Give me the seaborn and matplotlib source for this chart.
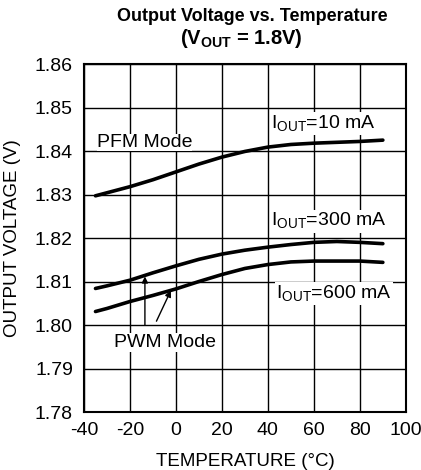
import numpy as np
import pandas as pd
import matplotlib.pyplot as plt
import seaborn as sns

# Values
temperature = [-35, -30, -20, -10, 0, 10, 20, 30, 40, 50, 60, 70, 80, 90]
vout_10ma = [1.8297, 1.8304, 1.8318, 1.8334, 1.8352, 1.8370, 1.8386, 1.8399,
             1.8409, 1.8415, 1.8418, 1.8420, 1.8422, 1.8425]
vout_300ma = [1.8084, 1.8090, 1.8103, 1.8120, 1.8136, 1.8151, 1.8163, 1.8172,
              1.8179, 1.8185, 1.8190, 1.8192, 1.8190, 1.8187]
vout_600ma = [1.8031, 1.8038, 1.8054, 1.8068, 1.8083, 1.8100, 1.8116, 1.8130,
              1.8139, 1.8145, 1.8147, 1.8147, 1.8147, 1.8144]
series_names = ["10 mA", "300 mA", "600 mA"]

x_ticks = [-40, -20, 0, 20, 40, 60, 80, 100]
y_ticks = [1.78, 1.79, 1.80, 1.81, 1.82, 1.83, 1.84, 1.85, 1.86]

df = pd.DataFrame({
    "temp": temperature * 3,
    "vout": vout_10ma + vout_300ma + vout_600ma,
    "iout": np.repeat(series_names, len(temperature)),
})

sns.set_style("white")
plt.rcParams["font.family"] = ["Liberation Sans", "DejaVu Sans"]
plt.rcParams["mathtext.fontset"] = "custom"
plt.rcParams["mathtext.rm"] = "Liberation Sans"
plt.rcParams["mathtext.bf"] = "Liberation Sans:bold"
plt.rcParams["axes.unicode_minus"] = False
plt.rcParams["text.color"] = "black"
plt.rcParams["axes.labelcolor"] = "black"

fig = plt.figure(figsize=(4.21, 4.70), dpi=100)
ax = fig.add_axes([0.1995, 0.1234, 0.7645, 0.7404])

ax.grid(True, color="black", linewidth=1.0)
ax.set_axisbelow(True)

sns.lineplot(
    data=df, x="temp", y="vout", hue="iout",
    palette=["black"] * 3, linewidth=2.6, legend=False, ax=ax,
)

ax.set_xlim(-40, 100)
ax.set_ylim(1.78, 1.86)
ax.set_xticks(x_ticks)
ax.set_yticks(y_ticks)
ax.set_yticklabels([f"{v:.2f}" for v in y_ticks])
ax.tick_params(axis="y", length=0, labelsize=14, pad=8, colors="black")
ax.tick_params(axis="x", length=0, labelsize=14, pad=7, colors="black")
for s in ax.spines.values():
    s.set_color("black")
    s.set_linewidth(1.5)

ax.set_xlabel("TEMPERATURE (°C)", fontsize=13.5, labelpad=10)
ax.set_ylabel("OUTPUT VOLTAGE (V)", fontsize=13.5, labelpad=10)

fig.text(0.599, 0.965, "Output Voltage vs. Temperature", ha="center", va="center",
         fontsize=13, fontweight="bold")
fig.text(0.573, 0.918, r"(V$_{\mathbf{OUT}}$ = 1.8V)", ha="center", va="center",
         fontsize=14.5, fontweight="bold")

box = dict(facecolor="white", edgecolor="none", pad=1)
ax.text(41.5, 1.8439, r"I$_{\mathregular{OUT}}$=10 mA", fontsize=14, va="bottom", bbox=box)
ax.text(-34.5, 1.8401, "PFM Mode", fontsize=14, va="bottom",
        bbox=dict(facecolor="white", edgecolor="none", pad=0))
ax.text(41.5, 1.8215, r"I$_{\mathregular{OUT}}$=300 mA", fontsize=14, va="bottom", bbox=box)
ax.text(43.5, 1.8049, r"I$_{\mathregular{OUT}}$=600 mA", fontsize=14, va="bottom", bbox=box)
ax.text(-27, 1.7940, "PWM Mode", fontsize=14, va="bottom", bbox=box)

arrow = dict(arrowstyle="-|>", color="black", lw=1.0, mutation_scale=9)
ax.annotate("", xy=(-13.5, 1.8118), xytext=(-13.5, 1.7993), arrowprops=arrow)
ax.annotate("", xy=(-1.7, 1.8085), xytext=(-9.0, 1.8003), arrowprops=arrow)

fig.savefig("out.png", dpi=100)
